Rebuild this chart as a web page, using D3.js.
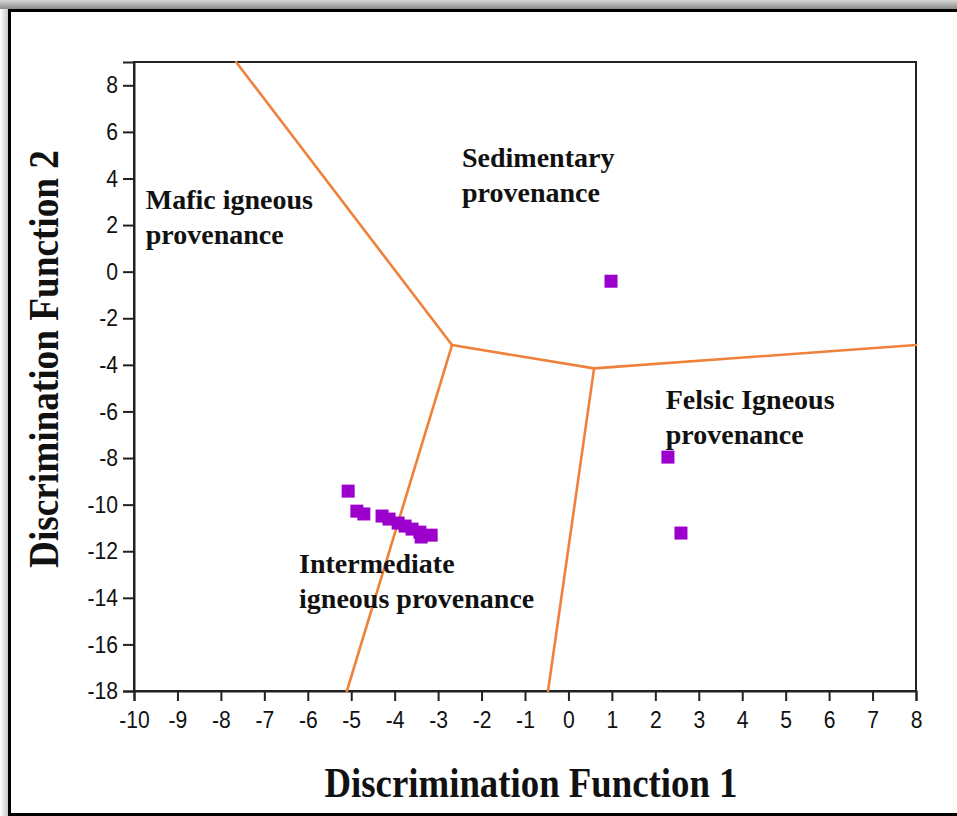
<!DOCTYPE html>
<html>
<head>
<meta charset="utf-8">
<script src="https://cdn.jsdelivr.net/npm/d3@7/dist/d3.min.js"></script>
<style>
  html, body { margin: 0; padding: 0; background: #fff; }
  svg { display: block; }
</style>
</head>
<body>
<svg id="chart" width="957" height="816"></svg>
<script>
// Discriminant function scores of the samples
const sampleDF1 = [-5.07, -4.87, -4.71, -4.29, -4.13, -3.92, -3.76, -3.60, -3.42, -3.39, -3.16, 0.98, 2.29, 2.59];
const sampleDF2 = [-9.42, -10.28, -10.40, -10.49, -10.62, -10.79, -10.92, -11.05, -11.18, -11.39, -11.31, -0.41, -7.96, -11.22];

// Field boundaries (each a polyline in DF1/DF2 units)
const boundaryNames = ["mafic-sedimentary", "mafic-intermediate", "sedimentary-centre", "intermediate-felsic", "sedimentary-felsic"];
const boundaryDF1 = [[-7.65, -2.68], [-2.68, -5.10], [-2.68, 0.59], [0.59, -0.47], [0.59, 8.0]];
const boundaryDF2 = [[9.0, -3.15], [-3.15, -18.0], [-3.15, -4.15], [-4.15, -18.0], [-4.15, -3.15]];

// Field names and their anchor points
const fieldLines = [["Sedimentary", "provenance"], ["Mafic igneous", "provenance"], ["Felsic Igneous", "provenance"], ["Intermediate", "igneous provenance"]];
const fieldDF1 = [-2.45, -9.73, 2.24, -6.20];
const fieldDF2 = [4.48, 2.70, -5.88, -12.95];

// Axis ticks
const xTicks = [-10, -9, -8, -7, -6, -5, -4, -3, -2, -1, 0, 1, 2, 3, 4, 5, 6, 7, 8];
const yTicks = [8, 6, 4, 2, 0, -2, -4, -6, -8, -10, -12, -14, -16, -18];

const svg = d3.select("#chart");
const W = 957, H = 816;
const plot = { left: 134, top: 62, right: 916, bottom: 691 };

// outer frame: grey band on top, soft shadow on the left, black border
const defs = svg.append("defs");
const gTop = defs.append("linearGradient").attr("id", "topBand").attr("x1", 0).attr("y1", 0).attr("x2", 0).attr("y2", 1);
gTop.append("stop").attr("offset", "0%").attr("stop-color", "#d6d6d6");
gTop.append("stop").attr("offset", "60%").attr("stop-color", "#a9a9a9");
gTop.append("stop").attr("offset", "100%").attr("stop-color", "#8c8c8c");
const gLeft = defs.append("linearGradient").attr("id", "leftShade").attr("x1", 0).attr("y1", 0).attr("x2", 1).attr("y2", 0);
gLeft.append("stop").attr("offset", "0%").attr("stop-color", "#ffffff");
gLeft.append("stop").attr("offset", "100%").attr("stop-color", "#c8c8c8");

svg.append("rect").attr("x", 0).attr("y", 0).attr("width", W).attr("height", 9).attr("fill", "url(#topBand)");
svg.append("rect").attr("x", 0).attr("y", 9).attr("width", 8).attr("height", H - 9).attr("fill", "url(#leftShade)");
svg.append("rect").attr("x", 8).attr("y", 9).attr("width", W - 8).attr("height", 3).attr("fill", "#000");
svg.append("rect").attr("x", 8).attr("y", 9).attr("width", 3).attr("height", H - 9).attr("fill", "#000");
svg.append("rect").attr("x", 8).attr("y", 813).attr("width", W - 8).attr("height", 3).attr("fill", "#000");

const x = d3.scaleLinear().domain([-10, 8]).range([plot.left, plot.right]);
const y = d3.scaleLinear().domain([-18, 9]).range([plot.bottom, plot.top]);

// plot frame
svg.append("rect")
  .attr("x", plot.left).attr("y", plot.top)
  .attr("width", plot.right - plot.left).attr("height", plot.bottom - plot.top)
  .attr("fill", "none").attr("stroke", "#222").attr("stroke-width", 2);

// axes
const tickScaleX = 0.88;
const xAxis = svg.append("g").attr("transform", `translate(0,${plot.bottom})`)
  .call(d3.axisBottom(x).tickValues(xTicks).tickSize(10).tickPadding(10).tickFormat(d3.format("d")));
const yAxis = svg.append("g").attr("transform", `translate(${plot.left},0)`)
  .call(d3.axisLeft(y).tickValues(yTicks).tickSize(11).tickPadding(5).tickFormat(d3.format("d")));
[xAxis, yAxis].forEach(a => {
  a.select(".domain").attr("stroke", "#222").attr("stroke-width", 2);
  a.selectAll(".tick line").attr("stroke", "#222").attr("stroke-width", 2);
  a.selectAll(".tick text")
    .attr("fill", "#111")
    .style("font-family", "'Liberation Sans', Arial, sans-serif")
    .style("font-size", "24px");
});
// tick labels use a plain hyphen-minus and a slightly narrow face
xAxis.selectAll(".tick text").text(d => String(d))
  .attr("transform", `scale(${tickScaleX},1)`);
yAxis.selectAll(".tick text").text(d => String(d))
  .attr("x", -16 / tickScaleX)
  .attr("transform", `scale(${tickScaleX},1)`);

// field boundaries
const line = d3.line().x(d => x(d[0])).y(d => y(d[1]));
boundaryNames.forEach((name, i) => {
  const pts = boundaryDF1[i].map((v, j) => [v, boundaryDF2[i][j]]);
  svg.append("path").attr("class", "boundary " + name)
    .attr("d", line(pts))
    .attr("fill", "none").attr("stroke", "#f0813b").attr("stroke-width", 2.6)
    .attr("stroke-linecap", "round");
});

// samples
const sq = 13;
svg.append("g").selectAll("rect").data(sampleDF1.map((v, i) => [v, sampleDF2[i]])).join("rect")
  .attr("x", d => x(d[0]) - sq / 2).attr("y", d => y(d[1]) - sq / 2)
  .attr("width", sq).attr("height", sq)
  .attr("fill", "#9c00cc");

// field labels
const serif = "'Liberation Serif', 'Times New Roman', serif";
fieldLines.forEach((lines, i) => {
  const t = svg.append("text")
    .attr("x", x(fieldDF1[i])).attr("y", y(fieldDF2[i]))
    .style("font-family", serif).style("font-weight", "bold").style("font-size", "28px")
    .attr("fill", "#111");
  lines.forEach((s, k) => {
    t.append("tspan").attr("x", x(fieldDF1[i])).attr("dy", k === 0 ? 0 : 35).text(s);
  });
});

// axis titles (condensed bold serif)
svg.append("text")
  .attr("x", 531).attr("y", 797)
  .attr("text-anchor", "middle")
  .attr("textLength", 413).attr("lengthAdjust", "spacingAndGlyphs")
  .style("font-family", serif).style("font-weight", "bold").style("font-size", "42px")
  .attr("fill", "#111")
  .text("Discrimination Function 1");
svg.append("text")
  .attr("transform", "translate(58,359) rotate(-90)")
  .attr("text-anchor", "middle")
  .attr("textLength", 418).attr("lengthAdjust", "spacingAndGlyphs")
  .style("font-family", serif).style("font-weight", "bold").style("font-size", "42px")
  .attr("fill", "#111")
  .text("Discrimination Function 2");
</script>
</body>
</html>
